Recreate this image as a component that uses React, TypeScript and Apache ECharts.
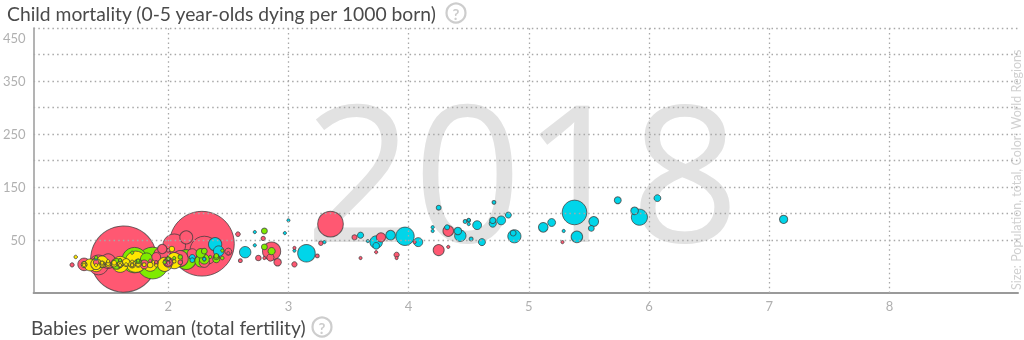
import React, { useEffect, useRef } from "react";
import * as echarts from "echarts";

// [name, babies per woman, child mortality per 1000, population (millions)]
const asia: [string, number, number, number][] = [
  ["China", 1.63, 14, 1415], ["India", 2.28, 43, 1354], ["Indonesia", 2.3, 30, 267],
  ["Pakistan", 3.35, 80, 212], ["Bangladesh", 2.05, 40, 166], ["Japan", 1.42, 3, 127],
  ["Philippines", 2.86, 29, 107], ["Vietnam", 1.95, 21, 96], ["Iran", 2.1, 15, 82],
  ["Thailand", 1.5, 10, 69], ["Myanmar", 2.15, 55, 54], ["South Korea", 1.3, 4, 51],
  ["Iraq", 4.25, 31, 39], ["Afghanistan", 4.33, 67, 37], ["Saudi Arabia", 2.3, 8, 34],
  ["Uzbekistan", 2.2, 24, 33], ["Malaysia", 2.0, 8, 32], ["Nepal", 1.95, 33, 28],
  ["Yemen", 3.77, 55, 28], ["North Korea", 1.9, 18, 25], ["Australia", 1.8, 4, 25],
  ["Sri Lanka", 2.0, 8, 21], ["Kazakhstan", 2.91, 8, 18], ["Syria", 2.85, 17, 17],
  ["Cambodia", 2.5, 28, 16], ["Jordan", 2.75, 16, 10], ["UAE", 1.4, 8, 9.6],
  ["Tajikistan", 3.9, 22, 9], ["Israel", 3.05, 4, 9], ["Papua New Guinea", 3.55, 55, 8.6],
  ["Laos", 2.58, 61, 7], ["Lebanon", 2.1, 8, 6.9], ["Kyrgyzstan", 3.27, 44, 6.3],
  ["Turkmenistan", 2.79, 53, 5.9], ["Singapore", 1.2, 3, 5.8], ["Palestine", 3.24, 20, 4.9],
  ["Oman", 2.6, 11, 4.8], ["New Zealand", 1.9, 5.5, 4.7], ["Kuwait", 2.0, 8, 4.1],
  ["Mongolia", 2.8, 16, 3.2], ["Qatar", 1.9, 7, 2.8], ["Bahrain", 2.0, 7, 1.6],
  ["Timor-Leste", 4.05, 46, 1.3], ["Fiji", 2.5, 25, 0.9], ["Bhutan", 2.0, 30, 0.75],
  ["Solomon Islands", 4.33, 37, 0.65], ["Maldives", 1.9, 8, 0.5], ["Brunei", 1.85, 11, 0.43],
  ["Vanuatu", 3.73, 27, 0.29], ["Samoa", 3.9, 16, 0.2], ["Kiribati", 5.28, 46, 0.12],
  ["Micronesia", 3.05, 35, 0.11], ["Tonga", 3.6, 16, 0.1],
];

const europe: [string, number, number, number][] = [
  ["Russia", 1.73, 9, 146], ["Germany", 1.6, 4, 83], ["Turkey", 2.05, 11, 82],
  ["United Kingdom", 1.85, 4.5, 67], ["France", 1.97, 4, 65], ["Italy", 1.4, 3, 60],
  ["Spain", 1.35, 3, 46], ["Ukraine", 1.45, 9, 44], ["Poland", 1.4, 4.5, 38],
  ["Romania", 1.65, 7.5, 19.7], ["Netherlands", 1.7, 4, 17], ["Belgium", 1.75, 4, 11.5],
  ["Czechia", 1.6, 3, 10.6], ["Greece", 1.3, 4, 10.5], ["Portugal", 1.3, 3.5, 10.3],
  ["Sweden", 1.85, 3, 10], ["Azerbaijan", 2.03, 33, 9.9], ["Hungary", 1.5, 4.5, 9.7],
  ["Belarus", 1.6, 4, 9.5], ["Austria", 1.5, 3.5, 8.9], ["Serbia", 1.45, 5.5, 8.8],
  ["Switzerland", 1.55, 4, 8.5], ["Bulgaria", 1.55, 7, 7], ["Denmark", 1.75, 4, 5.8],
  ["Finland", 1.45, 2.3, 5.5], ["Slovakia", 1.5, 5.5, 5.4], ["Norway", 1.7, 2.5, 5.3],
  ["Ireland", 1.8, 3.5, 4.8], ["Croatia", 1.45, 4.5, 4.2], ["Moldova", 1.23, 18, 4],
  ["Georgia", 2.05, 10, 3.9], ["Bosnia", 1.3, 6, 3.3], ["Armenia", 1.6, 12, 2.9],
  ["Albania", 1.7, 9, 2.9], ["Lithuania", 1.65, 4, 2.8], ["North Macedonia", 1.5, 10, 2.1],
  ["Slovenia", 1.6, 2, 2.1], ["Latvia", 1.7, 4, 1.9], ["Estonia", 1.6, 2.5, 1.3],
  ["Cyprus", 1.3, 2.5, 1.2], ["Montenegro", 1.7, 2.5, 0.63], ["Luxembourg", 1.4, 2.5, 0.6],
  ["Malta", 1.45, 7, 0.44], ["Iceland", 1.9, 2, 0.34],
];

const americas: [string, number, number, number][] = [
  ["United States", 1.87, 6.5, 327], ["Brazil", 1.72, 12, 209], ["Mexico", 2.15, 13, 126],
  ["Colombia", 1.82, 14, 49], ["Argentina", 2.27, 10, 44], ["Canada", 1.57, 5, 37],
  ["Peru", 2.3, 14, 32], ["Venezuela", 2.27, 25, 29], ["Chile", 1.75, 7, 18],
  ["Guatemala", 2.86, 29, 17], ["Ecuador", 2.4, 14, 17], ["Bolivia", 2.8, 37, 11],
  ["Cuba", 1.6, 5, 11], ["Haiti", 2.8, 67, 11], ["Dominican Republic", 2.3, 29, 10.7],
  ["Honduras", 2.4, 18, 9.6], ["Paraguay", 2.4, 20, 6.9], ["Nicaragua", 2.1, 18, 6.5],
  ["El Salvador", 2.0, 14, 6.4], ["Costa Rica", 1.75, 9, 5], ["Panama", 2.45, 16, 4.2],
  ["Uruguay", 1.97, 8, 3.5], ["Jamaica", 2.0, 15, 2.9], ["Trinidad and Tobago", 1.7, 26, 1.4],
  ["Guyana", 2.45, 30, 0.78], ["Suriname", 2.35, 18, 0.58], ["Bahamas", 1.75, 11, 0.39],
  ["Belize", 2.3, 13, 0.38], ["Barbados", 1.6, 12, 0.29], ["St. Lucia", 1.4, 17, 0.18],
  ["Grenada", 2.05, 16, 0.11],
];

const africa: [string, number, number, number][] = [
  ["Nigeria", 5.38, 102, 196], ["Ethiopia", 3.97, 57, 109], ["Egypt", 3.15, 25, 99],
  ["DR Congo", 5.92, 93, 84], ["South Africa", 2.39, 42, 57], ["Tanzania", 4.88, 57, 56],
  ["Kenya", 3.73, 46, 51], ["Uganda", 5.4, 56, 43], ["Algeria", 2.64, 27, 42],
  ["Sudan", 4.43, 58, 42], ["Morocco", 2.42, 29, 36], ["Angola", 5.54, 85, 31],
  ["Mozambique", 5.12, 74, 30], ["Ghana", 3.85, 59, 30], ["Madagascar", 4.08, 46, 26],
  ["Cameroon", 4.57, 78, 25], ["Cote d'Ivoire", 4.77, 87, 25], ["Niger", 7.12, 89, 22],
  ["Burkina Faso", 5.19, 83, 20], ["Mali", 5.88, 105, 19], ["Malawi", 4.41, 67, 18],
  ["Zambia", 4.7, 81, 17], ["Senegal", 4.61, 46, 16], ["Chad", 5.74, 125, 15.5],
  ["Somalia", 6.07, 129, 15], ["Zimbabwe", 3.73, 39, 14.4], ["Guinea", 4.7, 87, 12.4],
  ["Rwanda", 3.6, 59, 12.3], ["Benin", 4.83, 97, 11.5], ["Tunisia", 2.2, 17, 11.5],
  ["Burundi", 5.52, 72, 11], ["South Sudan", 4.87, 63, 11], ["Togo", 4.32, 74, 8],
  ["Sierra Leone", 4.25, 111, 7.6], ["Libya", 2.2, 12, 6.7], ["Congo", 4.52, 52, 5.2],
  ["Liberia", 4.47, 85, 4.8], ["Central African Rep.", 4.71, 121, 4.7],
  ["Mauritania", 4.5, 87, 4.4], ["Eritrea", 4.2, 74, 3.5], ["Namibia", 3.3, 46, 2.4],
  ["Gambia", 5.29, 67, 2.3], ["Botswana", 2.72, 40, 2.3], ["Gabon", 3.66, 48, 2.1],
  ["Lesotho", 3.0, 87, 2.1], ["Guinea-Bissau", 4.5, 80, 1.9], ["Equatorial Guinea", 4.5, 88, 1.3],
  ["Mauritius", 1.4, 15, 1.3], ["Eswatini", 2.97, 63, 1.1], ["Djibouti", 2.72, 65, 0.96],
  ["Comoros", 4.2, 67, 0.83], ["Cape Verde", 2.3, 15, 0.54], ["Sao Tome and Principe", 3.05, 30, 0.21],
  ["Seychelles", 2.3, 14, 0.1],
];

const xTickLabels = [2, 3, 4, 5, 6, 7, 8];
const yTickLabels = [50, 150, 250, 350, 450];
const yGridValues = [50, 100, 150, 200, 250, 300, 350, 400, 450];
const yearLabel = "2018";
const titleY = "Child mortality (0-5 year-olds dying per 1000 born)";
const titleX = "Babies per woman (total fertility)";
const sideNote = "Size: Population, total, Color: World Regions";

const regionColors: Record<string, string> = {
  asia: "#ff5872",
  europe: "#ffe700",
  americas: "#7feb00",
  africa: "#00d5e9",
};

export default function App() {
  const ref = useRef<HTMLDivElement>(null);

  useEffect(() => {
    if (!ref.current) return;
    const chart = echarts.init(ref.current, undefined, { renderer: "svg" });

    const all: any[] = [];
    const add = (rows: [string, number, number, number][], region: string) => {
      rows.forEach(([name, f, m, p]) => {
        all.push({
          name,
          value: [f, m, p],
          symbolSize: 2 * Math.max(1.6, 0.88 * Math.sqrt(p)),
          itemStyle: { color: regionColors[region] },
        });
      });
    };
    add(asia, "asia");
    add(europe, "europe");
    add(americas, "americas");
    add(africa, "africa");
    all.sort((a, b) => b.value[2] - a.value[2]);

    const gridLine = { color: "#a8a8a8", width: 1.3, type: [1.5, 3.2] as any };
    const titleStyle = { fontSize: 19.3, fontFamily: "Lato", fill: "#4a4a4a", align: "left", verticalAlign: "middle" };
    const helpIcon = (cx: number, cy: number) => [
      { type: "circle", shape: { cx, cy, r: 9.5 }, style: { fill: "none", stroke: "#cdcdcd", lineWidth: 2.2 } },
      {
        type: "text",
        x: cx,
        y: cy + 0.5,
        style: { text: "?", fontSize: 15, fontWeight: "bold", fontFamily: "Lato", fill: "#cdcdcd", align: "center", verticalAlign: "middle" },
      },
    ];

    chart.setOption({
      animation: false,
      grid: { left: 31, right: 6, top: 28, bottom: 47 },
      xAxis: {
        type: "value",
        min: 0.88,
        max: 9.07,
        axisLine: { show: true, onZero: false, lineStyle: { color: "#9a9a9a", width: 2 } },
        axisTick: { show: false },
        splitLine: { show: false },
        axisLabel: {
          customValues: xTickLabels,
          color: "#b0b0b0",
          fontSize: 13,
          fontFamily: "Lato",
          margin: 6,
        },
      },
      yAxis: {
        type: "value",
        min: -50,
        max: 450,
        axisLine: { show: true, onZero: false, lineStyle: { color: "#9a9a9a", width: 1.5 } },
        axisTick: { show: false },
        splitLine: { show: false },
        axisLabel: {
          customValues: yTickLabels,
          color: "#b0b0b0",
          fontSize: 13,
          fontFamily: "Lato",
          margin: 8,
          formatter: (v: number) => (v === 450 ? "{top|" + v + "}" : String(v)),
          rich: { top: { padding: [20, 0, 0, 0], color: "#b0b0b0", fontSize: 13, fontFamily: "Lato" } },
        },
      },
      graphic: [
        {
          type: "text",
          z: -10,
          x: 522,
          y: 168,
          style: {
            text: yearLabel,
            fontSize: 190,
            fontFamily: "Open Sans",
            fontWeight: 400,
            fill: "#e2e2e2",
            align: "center",
            verticalAlign: "middle",
          },
        },
        { type: "text", x: 7, y: 13, style: { text: titleY, ...titleStyle } },
        ...helpIcon(456, 13),
        { type: "text", x: 31, y: 327, style: { text: titleX, ...titleStyle } },
        ...helpIcon(322, 327),
        {
          type: "text",
          x: 1016,
          y: 290,
          rotation: Math.PI / 2,
          style: { text: sideNote, fontSize: 12.5, fontFamily: "Lato", fill: "#d0d0d0", align: "left", verticalAlign: "middle" },
        },
      ],
      series: [
        {
          type: "scatter",
          z: 1,
          data: [],
          silent: true,
          markLine: {
            silent: true,
            symbol: "none",
            label: { show: false },
            lineStyle: gridLine,
            data: [
              ...yGridValues.map((v) => ({ yAxis: v })),
              ...xTickLabels.map((v) => ({ xAxis: v })),
            ],
          },
        },
        {
          type: "scatter",
          z: 3,
          data: all,
          itemStyle: { borderColor: "rgba(60,60,60,0.75)", borderWidth: 1, opacity: 1 },
        },
      ],
    });

    return () => chart.dispose();
  }, []);

  return <div ref={ref} style={{ position: "fixed", left: 0, top: 0, width: 1024, height: 340 }} />;
}
